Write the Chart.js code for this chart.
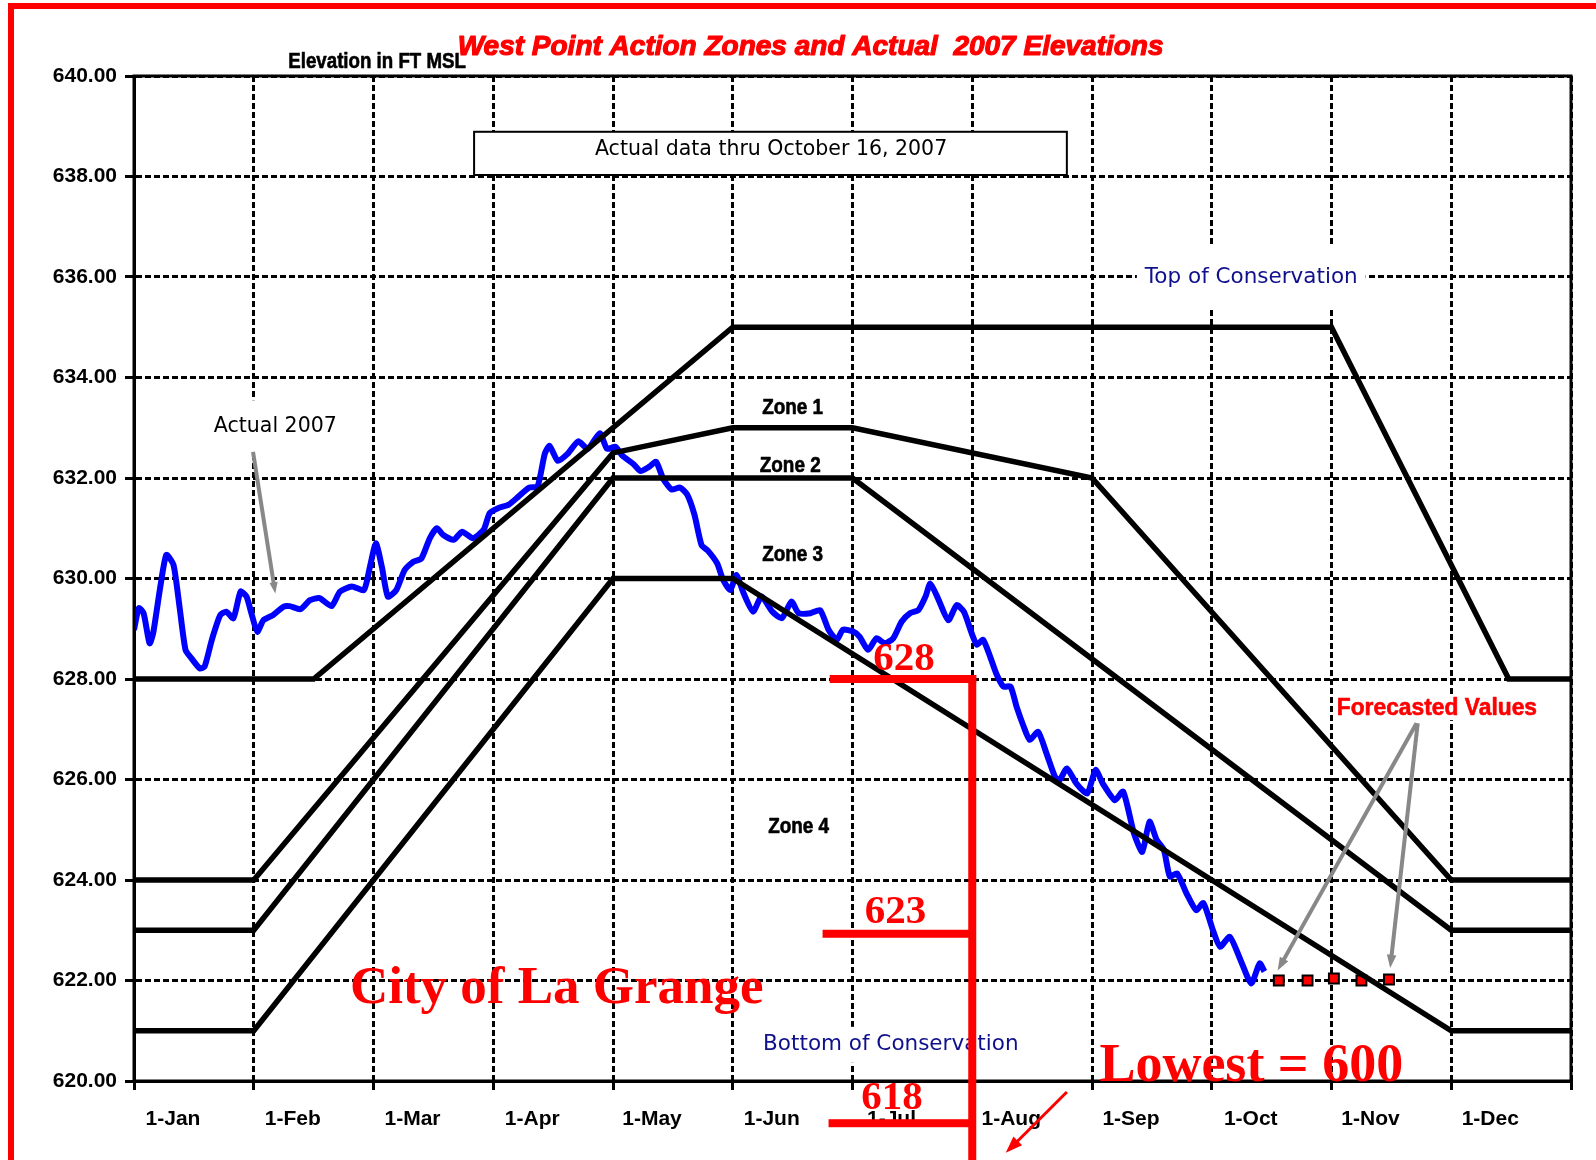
<!DOCTYPE html>
<html>
<head>
<meta charset="utf-8">
<script src="https://cdn.jsdelivr.net/npm/chart.js@4.4.0/dist/chart.umd.min.js"></script>
<style>
  html, body { margin: 0; padding: 0; background: #fff; }
  #wrap { width: 1596px; height: 1160px; }
</style>
</head>
<body>
<div id="wrap"><canvas id="chart" width="1596" height="1160"></canvas></div>
<script>
// x values are in months from 1-Jan (0) to end of Dec (12)
const monthLabels = ['1-Jan', '1-Feb', '1-Mar', '1-Apr', '1-May', '1-Jun',
  '1-Jul', '1-Aug', '1-Sep', '1-Oct', '1-Nov', '1-Dec'];

const topConsMonth = [0, 1.5, 5, 10, 11.48, 12];
const topConsElev = [628, 628, 635, 635, 628, 628];

const zone1Month = [0, 1, 4, 5, 6, 8, 11, 12];
const zone1Elev = [624, 624, 632.5, 633, 633, 632, 624, 624];

const zone2Month = [0, 1, 4, 6, 11, 12];
const zone2Elev = [623, 623, 632, 632, 623, 623];

const zone3Month = [0, 1, 4, 5, 11, 12];
const zone3Elev = [621, 621, 630, 630, 621, 621];

const actualMonth = [
  0.00, 0.04, 0.08, 0.13, 0.16, 0.22, 0.27, 0.33, 0.38, 0.43, 0.48, 0.55, 0.59, 0.65, 0.72, 0.77,
  0.83, 0.89, 0.94, 0.98, 1.03, 1.08, 1.16, 1.25, 1.30, 1.39, 1.47, 1.55, 1.65, 1.72, 1.82, 1.92,
  1.97, 2.02, 2.07, 2.12, 2.19, 2.26, 2.33, 2.40, 2.47, 2.53, 2.58, 2.67, 2.74, 2.83, 2.92, 2.97,
  3.04, 3.13, 3.21, 3.30, 3.37, 3.43, 3.47, 3.54, 3.62, 3.71, 3.79, 3.89, 3.95, 4.02, 4.08, 4.17,
  4.23, 4.30, 4.36, 4.42, 4.49, 4.56, 4.62, 4.68, 4.74, 4.79, 4.87, 4.92, 4.98, 5.03, 5.09, 5.17,
  5.24, 5.33, 5.41, 5.49, 5.55, 5.65, 5.73, 5.80, 5.87, 5.92, 6.01, 6.06, 6.13, 6.20, 6.27, 6.34,
  6.41, 6.48, 6.55, 6.61, 6.65, 6.72, 6.80, 6.87, 6.93, 7.00, 7.04, 7.09, 7.15, 7.20, 7.26, 7.32,
  7.37, 7.43, 7.48, 7.55, 7.62, 7.69, 7.73, 7.79, 7.87, 7.96, 8.03, 8.09, 8.19, 8.26, 8.35, 8.42,
  8.48, 8.54, 8.60, 8.65, 8.71, 8.79, 8.87, 8.93, 9.01, 9.07, 9.15, 9.24, 9.33, 9.40, 9.44
];
const actualElev = [
  628.98, 629.41, 629.31, 628.71, 628.91, 629.84, 630.47, 630.27, 629.44, 628.58, 628.41, 628.21, 628.25, 628.78, 629.27, 629.34,
  629.21, 629.74, 629.64, 629.31, 628.94, 629.17, 629.27, 629.44, 629.45, 629.39, 629.57, 629.61, 629.45, 629.74, 629.84, 629.77,
  630.23, 630.70, 630.23, 629.64, 629.77, 630.17, 630.33, 630.40, 630.80, 631.00, 630.87, 630.77, 630.93, 630.80, 630.97, 631.30,
  631.40, 631.47, 631.63, 631.81, 631.83, 632.48, 632.64, 632.34, 632.48, 632.73, 632.58, 632.89, 632.58, 632.62, 632.44, 632.28,
  632.14, 632.22, 632.32, 631.98, 631.77, 631.81, 631.67, 631.27, 630.66, 630.56, 630.30, 629.97, 629.77, 630.07, 629.71, 629.34,
  629.64, 629.34, 629.21, 629.54, 629.31, 629.31, 629.37, 628.98, 628.78, 628.98, 628.94, 628.84, 628.58, 628.81, 628.71, 628.81,
  629.14, 629.31, 629.37, 629.64, 629.90, 629.57, 629.17, 629.47, 629.34, 628.88, 628.68, 628.78, 628.44, 628.11, 627.85, 627.85,
  627.45, 627.05, 626.79, 626.95, 626.52, 626.06, 625.99, 626.22, 625.92, 625.72, 626.19, 625.92, 625.59, 625.76, 624.93, 624.56,
  625.16, 624.80, 624.60, 624.07, 624.13, 623.73, 623.40, 623.54, 623.00, 622.67, 622.87, 622.41, 621.94, 622.34, 622.18
];

const forecastMonth = [9.56, 9.80, 10.02, 10.25, 10.48];
const forecastElev = [622.0, 622.0, 622.04, 622.0, 622.02];

const toXY = (xs, ys) => xs.map((m, i) => ({ x: m, y: ys[i] }));

const tickFont = { family: "'Liberation Sans', Arial, sans-serif", size: 21, weight: 'bold' };
const sansBold = "'Liberation Sans', Arial, sans-serif";
const uiFont = "'DejaVu Sans', Verdana, sans-serif";
const serifFont = "'Liberation Serif', 'Times New Roman', serif";

function zoneSet(xs, ys) {
  return {
    data: toXY(xs, ys),
    borderColor: '#000',
    borderWidth: 5.5,
    pointRadius: 0,
    tension: 0,
    fill: false
  };
}

function drawText(ctx, str, cx, cy, font, color, opts = {}) {
  ctx.save();
  ctx.font = font;
  ctx.textAlign = 'center';
  ctx.textBaseline = opts.baseline || 'middle';
  const sx = opts.squeeze || 1;
  if (opts.bg) {
    const w = ctx.measureText(str).width * sx;
    ctx.fillStyle = '#fff';
    ctx.fillRect(cx - w / 2 - opts.bg[0], cy - opts.bg[1], w + 2 * opts.bg[0], 2 * opts.bg[1]);
  }
  ctx.translate(cx, cy);
  ctx.scale(sx, 1);
  ctx.fillStyle = color;
  ctx.fillText(str, 0, 0);
  if (opts.heavy) {
    ctx.strokeStyle = color;
    ctx.lineWidth = opts.heavy;
    ctx.lineJoin = 'round';
    ctx.strokeText(str, 0, 0);
  }
  ctx.restore();
}

function drawArrow(ctx, x1, y1, x2, y2, color, width, head) {
  const ang = Math.atan2(y2 - y1, x2 - x1);
  ctx.save();
  ctx.strokeStyle = color;
  ctx.fillStyle = color;
  ctx.lineWidth = width;
  ctx.beginPath();
  ctx.moveTo(x1, y1);
  ctx.lineTo(x2 - head * 0.6 * Math.cos(ang), y2 - head * 0.6 * Math.sin(ang));
  ctx.stroke();
  ctx.beginPath();
  ctx.moveTo(x2, y2);
  ctx.lineTo(x2 - head * Math.cos(ang - 0.35), y2 - head * Math.sin(ang - 0.35));
  ctx.lineTo(x2 - head * Math.cos(ang + 0.35), y2 - head * Math.sin(ang + 0.35));
  ctx.closePath();
  ctx.fill();
  ctx.restore();
}

const overlay = {
  id: 'overlay',
  beforeDraw(chart) {
    const ctx = chart.ctx;
    ctx.save();
    ctx.fillStyle = '#fff';
    ctx.fillRect(0, 0, chart.width, chart.height);
    // red page border
    ctx.fillStyle = '#ff0000';
    ctx.fillRect(8, 3, chart.width - 8, 6);
    ctx.fillRect(8, 3, 6, chart.height - 3);
    ctx.restore();
  },
  afterDraw(chart) {
    const { ctx, chartArea: a } = chart;
    const px = m => chart.scales.x.getPixelForValue(m);
    const py = v => chart.scales.y.getPixelForValue(v);

    ctx.save();
    ctx.strokeStyle = '#000';
    ctx.lineWidth = 3;
    ctx.strokeRect(a.left, a.top, a.right - a.left, a.bottom - a.top);
    ctx.restore();

    // titles
    drawText(ctx, 'West Point Action Zones and Actual  2007 Elevations', px(5.65), py(640.58),
      "italic bold 28px " + sansBold, '#ff0000', { heavy: 1.2 });
    drawText(ctx, 'Elevation in FT MSL', px(2.03), py(640.28), "bold 22px " + sansBold, '#000', { squeeze: 0.85, heavy: 0.6 });

    // note box
    ctx.save();
    const bx1 = px(2.84), bx2 = px(7.79), by1 = py(638.89), by2 = py(638.03);
    ctx.fillStyle = '#fff';
    ctx.fillRect(bx1, by1, bx2 - bx1, by2 - by1);
    ctx.strokeStyle = '#000';
    ctx.lineWidth = 2;
    ctx.strokeRect(bx1, by1, bx2 - bx1, by2 - by1);
    ctx.restore();
    drawText(ctx, 'Actual data thru October 16, 2007', px(5.32), py(638.54), "20.5px " + uiFont, '#000');

    // labels
    drawText(ctx, 'Top of Conservation', px(9.33), py(636), "21.5px " + uiFont, '#10108c', { bg: [8, 32] });
    drawText(ctx, 'Bottom of Conservation', px(6.32), py(620.72), "21.5px " + uiFont, '#10108c', { bg: [6, 18] });
    drawText(ctx, 'Actual 2007', px(1.18), py(633.03), "20.5px " + uiFont, '#000', { bg: [8, 26] });
    drawArrow(ctx, px(0.994), py(632.52), px(1.18), py(629.7), '#888', 4, 12);

    const zoneFont = "bold 22px " + sansBold;
    drawText(ctx, 'Zone 1', px(5.50), py(633.39), zoneFont, '#000', { squeeze: 0.86, heavy: 0.6 });
    drawText(ctx, 'Zone 2', px(5.48), py(632.24), zoneFont, '#000', { squeeze: 0.86, heavy: 0.6 });
    drawText(ctx, 'Zone 3', px(5.50), py(630.47), zoneFont, '#000', { squeeze: 0.86, heavy: 0.6 });
    drawText(ctx, 'Zone 4', px(5.55), py(625.05), zoneFont, '#000', { squeeze: 0.86, heavy: 0.6 });

    drawText(ctx, 'Forecasted Values', px(10.88), py(627.42), "bold 24px " + sansBold, '#ff0000', { squeeze: 0.95, bg: [2, 12], heavy: 0.6 });
    drawArrow(ctx, px(10.71), py(627.12), px(9.55), py(622.2), '#888', 4, 14);
    drawArrow(ctx, px(10.72), py(627.12), px(10.49), py(622.25), '#888', 4, 14);

    // red hand-drawn overlay
    ctx.save();
    ctx.fillStyle = '#ff0000';
    const vx = px(7.0);
    ctx.fillRect(vx - 4, py(628) - 4, 8, chart.height - py(628) + 4);
    ctx.fillRect(px(5.81), py(628) - 4, vx - px(5.81) + 4, 8);
    ctx.fillRect(px(5.75), py(622.93) - 4, vx - px(5.75), 8);
    ctx.fillRect(px(5.80), py(619.16) - 4, vx - px(5.80), 8);
    ctx.restore();
    const redSerif = "bold 41px " + serifFont;
    drawText(ctx, '628', px(6.43), py(628.18), redSerif, '#ff0000', { baseline: 'alphabetic' });
    drawText(ctx, '623', px(6.36), py(623.14), redSerif, '#ff0000', { baseline: 'alphabetic' });
    drawText(ctx, '618', px(6.33), py(619.44), redSerif, '#ff0000', { baseline: 'alphabetic' });
    drawText(ctx, 'City of La Grange', px(3.53), py(621.55), "bold 53px " + serifFont, '#ff0000', { baseline: 'alphabetic' });
    drawText(ctx, 'Lowest = 600', px(9.33), py(620.0), "bold 54px " + serifFont, '#ff0000', { baseline: 'alphabetic' });
    drawArrow(ctx, px(7.79), py(619.78), px(7.28), py(618.57), '#ff0000', 3, 18);
  }
};

new Chart(document.getElementById('chart'), {
  type: 'line',
  data: {
    datasets: [
      zoneSet(zone3Month, zone3Elev),
      zoneSet(zone2Month, zone2Elev),
      zoneSet(zone1Month, zone1Elev),
      zoneSet(topConsMonth, topConsElev),
      {
        label: 'Actual 2007',
        data: toXY(actualMonth, actualElev),
        borderColor: '#0000ff',
        borderWidth: 6,
        pointRadius: 0,
        tension: 0.2,
        fill: false
      },
      {
        label: 'Forecasted Values',
        data: toXY(forecastMonth, forecastElev),
        showLine: false,
        pointStyle: 'rect',
        pointRadius: 7,
        pointBackgroundColor: '#ff0000',
        pointBorderColor: '#000',
        pointBorderWidth: 2
      }
    ]
  },
  options: {
    responsive: false,
    animation: false,
    devicePixelRatio: 1,
    layout: { padding: { top: 76, right: 25, left: 0, bottom: 0 } },
    plugins: { legend: { display: false }, tooltip: { enabled: false } },
    scales: {
      x: {
        type: 'linear',
        min: 0,
        max: 12,
        afterFit: s => { s.height = 79; },
        ticks: {
          stepSize: 1,
          autoSkip: false,
          maxRotation: 0,
          labelOffset: 39,
          padding: 17,
          color: '#000',
          font: tickFont,
          callback: v => monthLabels[v] || ''
        },
        grid: { color: '#000', lineWidth: 3, tickLength: 9, tickColor: '#000', tickWidth: 3 },
        border: { display: true, color: '#000', width: 3, dash: [6, 3] }
      },
      y: {
        min: 620,
        max: 640,
        afterFit: s => { s.width = 134; },
        ticks: {
          stepSize: 2,
          padding: 8,
          color: '#000',
          font: tickFont,
          callback: v => v.toFixed(2)
        },
        grid: { color: '#000', lineWidth: 3, tickLength: 9, tickColor: '#000', tickWidth: 3 },
        border: { display: true, color: '#000', width: 3, dash: [6, 3] }
      }
    }
  },
  plugins: [overlay]
});
</script>
</body>
</html>
